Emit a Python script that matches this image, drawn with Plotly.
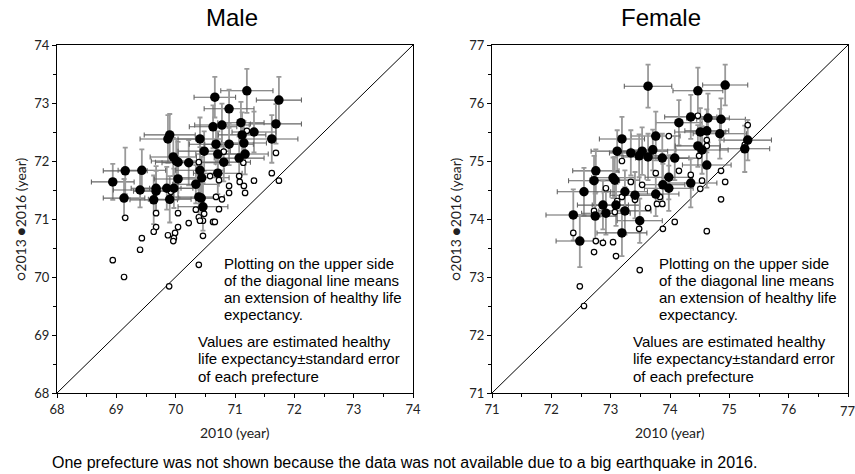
import plotly.graph_objects as go

# ---------------- Male data ----------------
male_x2010_16 = [68.94, 69.15, 69.43, 69.13, 69.40, 69.67, 69.67, 69.63, 69.85, 69.90, 69.97, 69.90, 69.87, 69.96, 70.01,
                 70.04, 70.22, 70.04, 70.41, 70.48, 70.41, 70.44, 70.34, 70.39, 70.43, 70.46, 70.63, 70.68, 70.71, 70.71,
                 70.66, 71.20, 71.74, 70.90, 70.78, 71.10, 71.69, 71.12, 71.32, 71.62, 70.90, 71.15, 70.81, 71.07, 71.17]
male_2016 = [71.64, 71.83, 71.84, 71.36, 71.50, 71.53, 71.48, 71.33, 71.53, 71.34, 71.53, 72.45, 72.38, 72.07, 72.00,
             71.98, 71.97, 71.69, 72.38, 72.17, 71.84, 71.71, 71.60, 71.38, 71.36, 71.21, 72.59, 72.29, 72.12, 71.79,
             73.10, 73.21, 73.05, 72.90, 72.62, 72.66, 72.64, 72.45, 72.50, 72.38, 72.29, 72.31, 71.98, 72.05, 72.12]
male_ex = [0.36, 0.37, 0.40, 0.35, 0.45, 0.42, 0.38, 0.40, 0.44, 0.36, 0.41, 0.43, 0.47, 0.39, 0.42,
           0.38, 0.45, 0.40, 0.37, 0.44, 0.41, 0.46, 0.39, 0.43, 0.38, 0.42, 0.40, 0.45, 0.37, 0.41,
           0.35, 0.44, 0.38, 0.42, 0.46, 0.39, 0.43, 0.40, 0.37, 0.44, 0.41, 0.38, 0.45, 0.42, 0.39]
male_ey = [0.31, 0.40, 0.36, 0.33, 0.30, 0.38, 0.35, 0.42, 0.37, 0.40, 0.34, 0.36, 0.41, 0.33, 0.38,
           0.35, 0.39, 0.32, 0.37, 0.34, 0.40, 0.36, 0.33, 0.38, 0.35, 0.41, 0.37, 0.34, 0.39, 0.36,
           0.35, 0.38, 0.40, 0.33, 0.37, 0.36, 0.34, 0.39, 0.35, 0.41, 0.36, 0.38, 0.33, 0.37, 0.35]

male_x2010_13 = [69.15, 69.67, 70.04, 69.92, 70.39, 70.34, 70.39, 70.48, 70.46, 70.58, 70.68, 70.73, 69.67, 69.63, 70.04,
                 69.99, 69.87, 69.97, 69.96, 70.22, 69.43, 69.40, 68.94, 70.39, 70.46, 70.63, 70.66, 71.20, 71.69, 71.62,
                 71.74, 70.81, 71.14, 71.07, 71.08, 71.15, 71.32, 71.17, 70.90, 70.90, 70.73, 70.78, 70.41, 69.13, 69.89]
male_2013 = [71.02, 71.10, 71.10, 71.47, 71.98, 71.16, 71.03, 71.09, 70.97, 71.74, 71.38, 71.17, 70.86, 70.78, 70.86,
             70.76, 70.72, 70.67, 70.62, 70.93, 70.67, 70.47, 70.29, 70.21, 70.71, 70.95, 70.95, 72.52, 72.14, 71.79,
             71.66, 72.16, 71.97, 71.74, 71.64, 71.57, 71.66, 71.45, 71.57, 71.45, 71.67, 71.34, 70.97, 70.00, 69.84]

# ---------------- Female data ----------------
female_x2010_16 = [73.63, 74.47, 74.93, 74.35, 74.64, 74.86, 74.15, 74.51, 74.62, 74.84, 75.31, 75.26, 73.19, 73.76, 73.11,
                   73.34, 73.53, 73.48, 73.63, 73.71, 73.87, 74.08, 74.47, 74.54, 74.62, 72.75, 72.72, 73.04, 73.07, 73.98,
                   74.35, 73.88, 73.98, 72.55, 73.24, 73.41, 73.76, 72.87, 73.09, 72.37, 72.74, 72.92, 73.24, 73.49, 73.19,
                   72.48]
female_2016 = [76.29, 76.21, 76.31, 75.76, 75.74, 75.72, 75.66, 75.50, 75.52, 75.47, 75.36, 75.21, 75.38, 75.43, 75.17,
               75.14, 75.17, 75.09, 75.07, 75.19, 75.05, 75.05, 75.26, 75.19, 74.93, 74.83, 74.66, 74.71, 74.67, 74.72,
               74.62, 74.59, 74.53, 74.47, 74.47, 74.41, 74.43, 74.24, 74.24, 74.07, 74.05, 74.10, 74.14, 73.97, 73.76,
               73.62]
female_ex = [0.40, 0.42, 0.38, 0.44, 0.36, 0.41, 0.39, 0.43, 0.37, 0.45, 0.40, 0.42, 0.38, 0.41, 0.44,
             0.36, 0.43, 0.39, 0.42, 0.37, 0.45, 0.40, 0.38, 0.44, 0.41, 0.39, 0.43, 0.36, 0.42, 0.40,
             0.44, 0.37, 0.41, 0.45, 0.38, 0.42, 0.39, 0.43, 0.40, 0.46, 0.37, 0.41, 0.44, 0.38, 0.42,
             0.40]
female_ey = [0.37, 0.40, 0.35, 0.38, 0.42, 0.36, 0.39, 0.41, 0.37, 0.43, 0.35, 0.40, 0.38, 0.42, 0.36,
             0.39, 0.41, 0.37, 0.40, 0.35, 0.42, 0.38, 0.36, 0.41, 0.39, 0.37, 0.43, 0.35, 0.40, 0.38,
             0.42, 0.36, 0.39, 0.41, 0.37, 0.40, 0.38, 0.42, 0.36, 0.44, 0.39, 0.37, 0.41, 0.38, 0.40,
             0.45]

female_x2010_13 = [74.47, 75.31, 75.26, 73.98, 74.62, 74.62, 74.49, 73.71, 73.19, 73.76, 74.15, 74.35, 74.54, 74.86, 74.93,
                   74.51, 74.86, 73.53, 73.34, 72.92, 73.19, 73.41, 73.11, 73.83, 73.78, 73.87, 73.63, 72.72, 73.07, 73.48,
                   73.88, 74.08, 72.37, 72.75, 72.87, 73.04, 74.62, 72.72, 73.09, 73.49, 72.48, 72.55]
female_2013 = [75.78, 75.62, 75.28, 75.43, 75.36, 75.26, 75.09, 75.22, 75.00, 74.79, 74.83, 74.76, 74.66, 74.83, 74.64,
               74.52, 74.34, 74.59, 74.64, 74.53, 74.38, 74.33, 74.31, 74.38, 74.26, 74.26, 74.19, 74.14, 74.12, 73.83,
               73.83, 73.95, 73.76, 73.62, 73.59, 73.60, 73.79, 73.43, 73.36, 73.12, 72.84, 72.50]

male_range = [68, 74]
female_range = [71, 77]
male_ticks = [68, 69, 70, 71, 72, 73, 74]
female_ticks = [71, 72, 73, 74, 75, 76, 77]

x_title = "2010 (year)"
y_title = "\u25cb2013 \u25cf2016 (year)"
note1_lines = ["Plotting on the upper side", "of the diagonal line means",
               "an extension of healthy life", "expectancy."]
note2_lines = ["Values are estimated healthy", "life expectancy\u00b1standard error",
               "of each prefecture"]
footnote = "One prefecture was not shown because the data was not available due to a big earthquake in 2016."

W, H = 855, 474
AX_FONT = dict(family="Lato, Carlito, Arial", size=13, color="#222")


def px(x):
    return x / W


def py(y):
    return 1 - y / H


fig = go.Figure()


def add_panel(x16, y16, ex, ey, x13, y13, xa, ya):
    fig.add_trace(go.Scatter(
        x=x16, y=y16, mode="markers", xaxis=xa, yaxis=ya, showlegend=False,
        marker=dict(size=8, color="rgba(0,0,0,0)"),
        error_y=dict(type="data", array=ey, color="#9a9a9a", thickness=1.8, width=2.5),
        error_x=dict(type="data", array=ex, color="#666666", thickness=1.1, width=2.5),
        hoverinfo="skip"))
    fig.add_trace(go.Scatter(
        x=x13, y=y13, mode="markers", xaxis=xa, yaxis=ya, showlegend=False, hoverinfo="skip",
        marker=dict(size=5.5, color="white", line=dict(color="black", width=1.2))))
    fig.add_trace(go.Scatter(
        x=x16, y=y16, mode="markers", xaxis=xa, yaxis=ya, showlegend=False, hoverinfo="skip",
        marker=dict(size=9.5, color="black", line=dict(width=0))))


add_panel(male_x2010_16, male_2016, male_ex, male_ey, male_x2010_13, male_2013, "x", "y")
add_panel(female_x2010_16, female_2016, female_ex, female_ey, female_x2010_13, female_2013, "x2", "y2")

# diagonal lines (y = x)
fig.add_shape(type="line", xref="x", yref="y", x0=male_range[0], y0=male_range[0],
              x1=male_range[1], y1=male_range[1], line=dict(color="black", width=1), layer="below")
fig.add_shape(type="line", xref="x2", yref="y2", x0=female_range[0], y0=female_range[0],
              x1=female_range[1], y1=female_range[1], line=dict(color="black", width=1), layer="below")

ydom = [py(393), py(45)]


def axis(rng, ticks, dom, anchor):
    return dict(range=rng, domain=dom, anchor=anchor, tickvals=ticks, automargin=False,
                showgrid=False, zeroline=False, showline=True, linecolor="black", linewidth=1,
                mirror=True, ticks="outside", ticklen=4, tickcolor="black", tickwidth=1,
                tickfont=AX_FONT,
                minor=dict(dtick=0.5, ticks="outside", ticklen=3, tickcolor="black", showgrid=False))


# the last female x tick label sits on the paper's right edge: drawn as text below
female_xticks_axis = female_ticks[:-1]

fig.update_layout(
    width=W, height=H, margin=dict(l=0, r=0, t=0, b=0, autoexpand=False),
    plot_bgcolor="white", paper_bgcolor="white", hovermode=False,
    xaxis=axis(male_range, male_ticks, [px(57), px(413)], "y"),
    yaxis=axis(male_range, male_ticks, ydom, "x"),
    xaxis2=axis(female_range, female_xticks_axis, [px(492), px(848)], "y2"),
    yaxis2=axis(female_range, female_ticks, ydom, "x2"),
)

fig.add_annotation(x=female_ticks[-1], y=py(411), xref="x2", yref="paper", text=str(female_ticks[-1]),
                   showarrow=False, font=AX_FONT, xanchor="center", yanchor="middle")

TXT_FONT = dict(family="Liberation Sans, Arial", size=15, color="black")
TITLE_FONT = dict(family="Lato, Carlito, Arial", size=14, color="#222")

for dx, title, cx in [(0, "Male", 232), (435, "Female", 661)]:
    fig.add_annotation(x=px(cx), y=py(18), xref="paper", yref="paper", text=title,
                       showarrow=False, font=dict(family="Liberation Sans, Arial", size=24, color="black"),
                       xanchor="center", yanchor="middle")
    fig.add_annotation(x=px(235 + dx), y=py(432), xref="paper", yref="paper", text=x_title,
                       showarrow=False, font=TITLE_FONT, xanchor="center", yanchor="middle")
    fig.add_annotation(x=px(20 + dx), y=py(219), xref="paper", yref="paper", text=y_title,
                       showarrow=False, font=TITLE_FONT, textangle=-90, xanchor="center", yanchor="middle")
    for i, line in enumerate(note1_lines):
        fig.add_annotation(x=px(222 + dx), y=py(263 + 17 * i), xref="paper", yref="paper",
                           text=line, showarrow=False, font=TXT_FONT, xanchor="left", yanchor="middle")
    for i, line in enumerate(note2_lines):
        fig.add_annotation(x=px(196 + dx), y=py(341 + 17.5 * i), xref="paper", yref="paper",
                           text=line, showarrow=False, font=TXT_FONT, xanchor="left", yanchor="middle")

fig.add_annotation(x=px(50), y=py(462), xref="paper", yref="paper", text=footnote,
                   showarrow=False, font=dict(family="Liberation Sans, Arial", size=16, color="black"),
                   xanchor="left", yanchor="middle")

fig.write_html("out.html", config={"displayModeBar": False},
               post_script="document.body.style.margin='0px';"
                           "document.documentElement.style.overflow='hidden';")
